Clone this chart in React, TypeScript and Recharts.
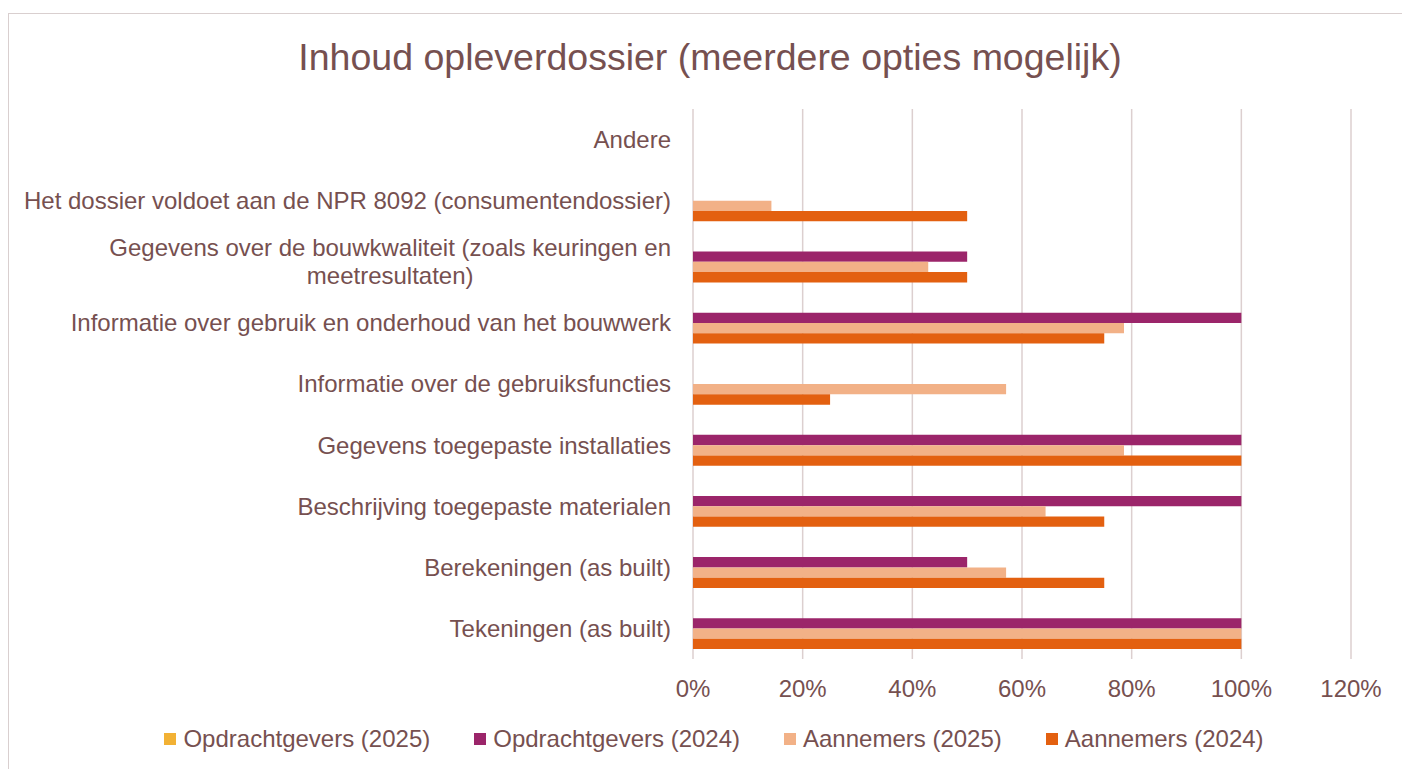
import { BarChart, Bar, XAxis, YAxis, CartesianGrid } from 'recharts'

const categories = [
    'Andere',
    'Het dossier voldoet aan de NPR 8092 (consumentendossier)',
    'Gegevens over de bouwkwaliteit (zoals keuringen en meetresultaten)',
    'Informatie over gebruik en onderhoud van het bouwwerk',
    'Informatie over de gebruiksfuncties',
    'Gegevens toegepaste installaties',
    'Beschrijving toegepaste materialen',
    'Berekeningen (as built)',
    'Tekeningen (as built)',
]

const opdrachtgevers2025 = [0, 0, 0, 0, 0, 0, 0, 0, 0]
const opdrachtgevers2024 = [0, 0, 0.5, 1, 0, 1, 1, 0.5, 1]
const aannemers2025 = [0, 0.143, 0.429, 0.786, 0.571, 0.786, 0.643, 0.571, 1]
const aannemers2024 = [0, 0.5, 0.5, 0.75, 0.25, 1, 0.75, 0.75, 1]

const seriesNames = ['Opdrachtgevers (2025)', 'Opdrachtgevers (2024)', 'Aannemers (2025)', 'Aannemers (2024)']
const seriesColors = ['#f2b134', '#9b256a', '#f2b187', '#e36010']
const seriesValues = [opdrachtgevers2025, opdrachtgevers2024, aannemers2025, aannemers2024]

const xTicks = [0, 0.2, 0.4, 0.6, 0.8, 1, 1.2]

const FONT = '"Liberation Sans", Arial, sans-serif'
const TEXT = '#765050'
const LABEL_SIZE = 24

const data = categories.map((name, i) => {
    const row: Record<string, string | number> = { name }
    seriesValues.forEach((vals, s) => {
        row[`s${s}`] = vals[i]
    })
    return row
})

const ctx = document.createElement('canvas').getContext('2d')

function measure(text: string) {
    if (!ctx) return text.length * LABEL_SIZE * 0.5
    ctx.font = `${LABEL_SIZE}px ${FONT}`
    return ctx.measureText(text).width
}

// wrap long category names the way Excel does, lines centred in a right-aligned block
function wrap(text: string, maxWidth: number) {
    const words = text.split(' ')
    const lines: string[] = []
    let cur = ''
    words.forEach((w) => {
        const next = cur ? `${cur} ${w}` : w
        if (measure(next) > maxWidth && cur) {
            lines.push(cur)
            cur = w
        } else {
            cur = next
        }
    })
    if (cur) lines.push(cur)
    return lines
}

function CategoryTick(props: any) {
    const { x, y, payload } = props
    const lines = wrap(payload.value, 670)
    const maxW = Math.max(...lines.map(measure))
    const cx = x - 14 - maxW / 2
    const lineH = 28
    const startY = y - ((lines.length - 1) * lineH) / 2
    return (
        <text x={cx} y={startY} textAnchor="middle" fill={TEXT} fontSize={LABEL_SIZE} fontFamily={FONT}>
            {lines.map((l, i) => (
                <tspan key={i} x={cx} y={startY + i * lineH} dy="0.35em">
                    {l}
                </tspan>
            ))}
        </text>
    )
}

export default function App() {
    return (
        <div style={{ position: 'absolute', left: 0, top: 0, width: 1402, height: 769, background: '#fff', overflow: 'hidden', fontFamily: FONT }}>
            <div style={{ position: 'absolute', left: 8, top: 13, width: 1400, height: 760, border: '1px solid #d9cfcf', boxSizing: 'border-box' }} />

            <div style={{ position: 'absolute', left: 0, top: 35, width: 1420, textAlign: 'center', fontSize: 37.5, color: TEXT, lineHeight: '44px' }}>
                Inhoud opleverdossier (meerdere opties mogelijk)
            </div>

            <div style={{ position: 'absolute', left: 0, top: 0 }}>
                <BarChart
                    width={1402}
                    height={769}
                    layout="vertical"
                    data={data}
                    margin={{ top: 109, right: 51, bottom: 60, left: 0 }}
                    barSize={10.3}
                    barGap={0}
                >
                    <CartesianGrid horizontal={false} stroke="#dccfcf" strokeWidth={1.5} />
                    <XAxis
                        type="number"
                        domain={[0, 1.2]}
                        ticks={xTicks}
                        tickFormatter={(v: number) => `${Math.round(v * 100)}%`}
                        axisLine={false}
                        tickLine={false}
                        tickSize={0}
                        tickMargin={21}
                        height={50}
                        tick={{ fill: TEXT, fontSize: LABEL_SIZE, fontFamily: FONT }}
                    />
                    <YAxis
                        type="category"
                        dataKey="name"
                        width={693}
                        axisLine={false}
                        tickLine={false}
                        interval={0}
                        tick={<CategoryTick />}
                    />
                    {seriesNames.map((n, s) => (
                        <Bar key={n} dataKey={`s${s}`} name={n} fill={seriesColors[s]} isAnimationActive={false} />
                    ))}
                </BarChart>
            </div>

            <div style={{ position: 'absolute', left: 0, top: 724, width: 1428, display: 'flex', justifyContent: 'center', gap: 44 }}>
                {seriesNames.map((n, s) => (
                    <div key={n} style={{ display: 'flex', alignItems: 'center', gap: 7 }}>
                        <div style={{ width: 12, height: 12, background: seriesColors[s] }} />
                        <span style={{ fontSize: 24, color: TEXT, lineHeight: '30px' }}>{n}</span>
                    </div>
                ))}
            </div>
        </div>
    )
}
